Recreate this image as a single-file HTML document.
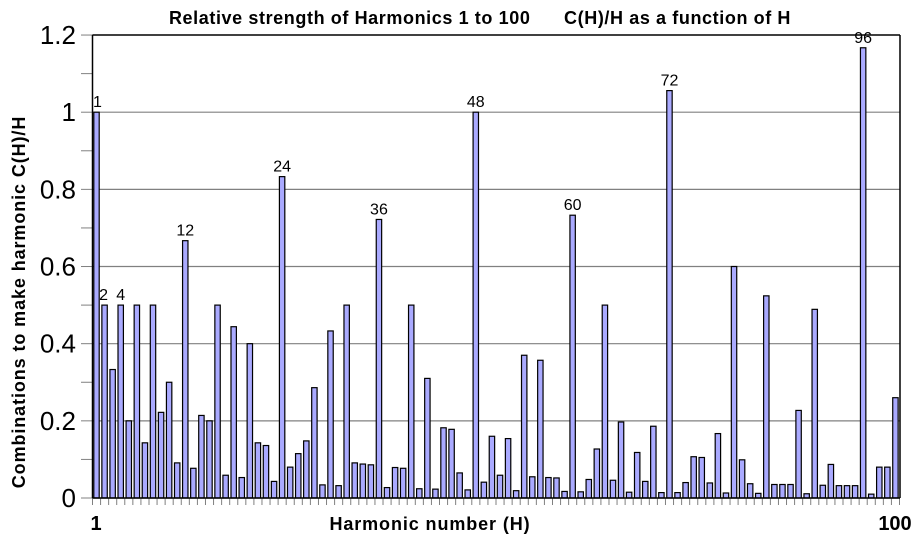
<!DOCTYPE html>
<html><head><meta charset="utf-8"><style>body{margin:0;background:#fff}svg{display:block}</style></head>
<body>
<svg id="s" width="920" height="540" xmlns="http://www.w3.org/2000/svg" font-family="Liberation Sans, Arial, sans-serif">
<rect width="920" height="540" fill="#fff"/>
<g id="grid"></g>
<g id="bars"></g>
<g id="lbl"></g>
<text x="480" y="24" font-size="18" font-weight="bold" letter-spacing="0.6" text-anchor="middle" xml:space="preserve">Relative strength of Harmonics 1 to 100      C(H)/H as a function of H</text>
<text x="430" y="530" font-size="18" font-weight="bold" letter-spacing="0.9" text-anchor="middle">Harmonic number (H)</text>
<text x="96" y="530" font-size="20" font-weight="bold" text-anchor="middle">1</text>
<text x="895" y="530" font-size="20" font-weight="bold" text-anchor="middle">100</text>
<text transform="translate(25,302) rotate(-90)" font-size="18" font-weight="bold" letter-spacing="0.9" text-anchor="middle">Combinations to make harmonic C(H)/H</text>
</svg>
<script>
const v=[1,.5,.333,.5,.2,.5,.143,.5,.222,.3,.091,.667,.077,.214,.2,.5,.059,.444,.053,.4,.143,.136,.043,.833,.08,.115,.148,.286,.034,.433,.032,.5,.091,.088,.086,.722,.027,.079,.077,.5,.024,.31,.023,.182,.178,.065,.021,1,.041,.16,.059,.154,.019,.37,.055,.357,.053,.052,.017,.733,.016,.048,.127,.5,.046,.197,.015,.118,.043,.186,.014,1.056,.014,.04,.107,.105,.039,.167,.013,.6,.099,.037,.012,.524,.035,.035,.035,.227,.011,.489,.033,.087,.032,.032,.032,1.167,.01,.08,.08,.26];
const NS="http://www.w3.org/2000/svg";
function el(p,t,a,txt){const e=document.createElementNS(NS,t);for(const k in a)e.setAttribute(k,a[k]);if(txt!==undefined)e.textContent=txt;p.appendChild(e);return e;}
const g=document.getElementById('grid'),b=document.getElementById('bars'),l=document.getElementById('lbl');
const y0=498,sc=385.8,L=92.5,R=900;
for(let i=1;i<=6;i++){const y=y0-i*0.2*sc;el(g,'line',{x1:L,x2:R,y1:y,y2:y,stroke:i==6?'#000':'#808080','stroke-width':i==6?1.5:1.2});}
for(let i=0;i<=12;i++){const y=y0-i*0.1*sc;el(g,'line',{x1:81,x2:L,y1:y,y2:y,stroke:'#808080','stroke-width':1});}
const ylab=['0','0.2','0.4','0.6','0.8','1','1.2'];
ylab.forEach((t,i)=>el(g,'text',{x:76,y:y0-i*0.2*sc+9,'font-size':26,'text-anchor':'end'},t));
el(g,'line',{x1:L,x2:L,y1:35,y2:y0,stroke:'#000','stroke-width':1.5});
el(g,'line',{x1:R,x2:R,y1:35,y2:y0,stroke:'#000','stroke-width':1.5});
for(let i=0;i<=100;i++){const x=92.5+i*8.07;el(g,'line',{x1:x,x2:x,y1:y0,y2:y0+7,stroke:'#808080','stroke-width':1});}
v.forEach((val,i)=>{const cx=96.5+i*8.07,h=val*sc;el(b,'rect',{x:cx-2.7,y:y0-h,width:5.4,height:h,fill:'#aaaaff',stroke:'#000','stroke-width':1.2});});
el(b,'line',{x1:L,x2:R,y1:y0,y2:y0,stroke:'#000','stroke-width':1.5});
[1,2,4,12,24,36,48,60,72,96].forEach(H=>{const cx=96.5+(H-1)*8.07,y=y0-v[H-1]*sc-5;el(l,'text',{x:H==2?cx-1:(H==1?cx+1:cx),y:y,'font-size':16,'text-anchor':'middle'},String(H));});
</script>
</body></html>
